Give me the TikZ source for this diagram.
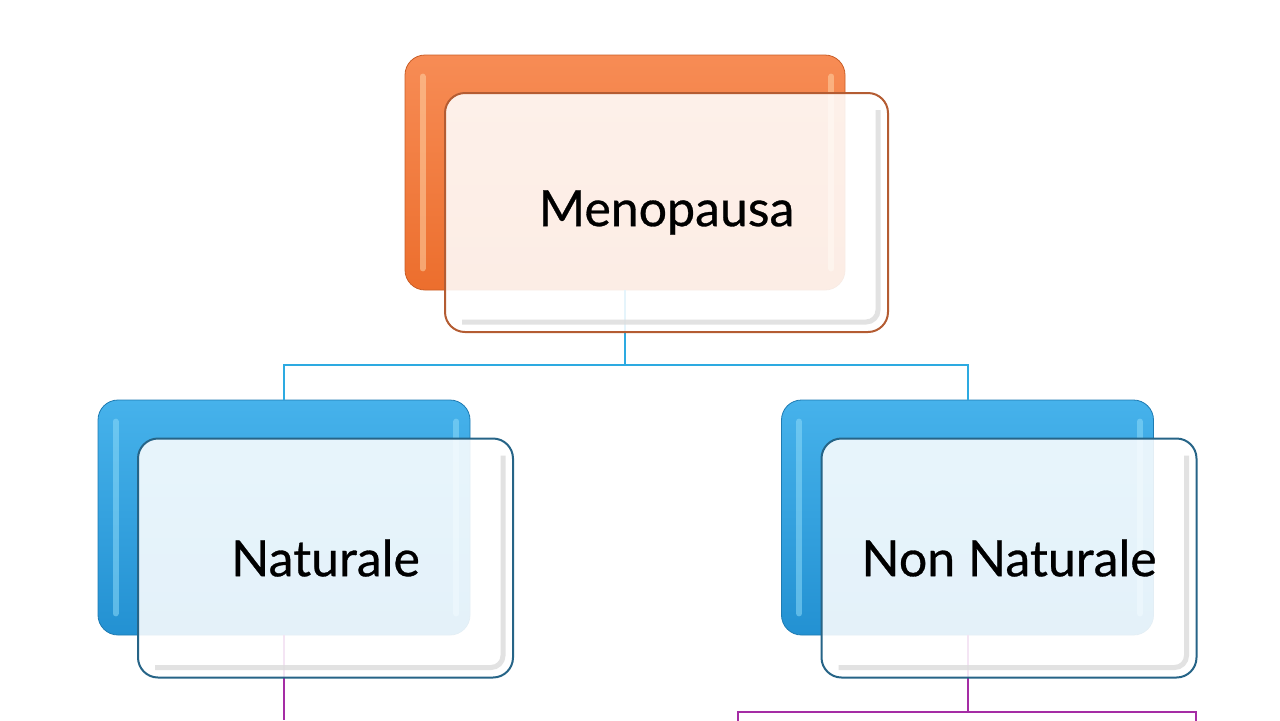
\documentclass[tikz,border=0pt]{standalone}
\usepackage{fontspec}
\setmainfont[FakeBold=0.6]{Lato}
\usetikzlibrary{positioning}

\definecolor{orangeTop}{RGB}{247,140,85}
\definecolor{orangeBot}{RGB}{236,110,45}
\definecolor{orangeEdge}{RGB}{180,92,50}
\definecolor{blueTop}{RGB}{70,178,235}
\definecolor{blueBot}{RGB}{35,145,210}
\definecolor{blueEdge}{RGB}{38,100,135}
\definecolor{linkBlue}{RGB}{45,170,225}
\definecolor{linkPurple}{RGB}{165,45,165}

\tikzset{
    backbox/.style={rounded corners=10pt, minimum width=220pt, minimum height=117.5pt,
        inner sep=0pt, top color=#1Top, bottom color=#1Bot, draw=#1Bot!85!black, line width=0.4pt},
    gloss/.style={line width=3pt, line cap=round, draw opacity=0.55},
    frontbox/.style={rounded corners=10pt, minimum width=221.5pt, minimum height=119.5pt,
        inner sep=0pt, fill=white, fill opacity=0.88, text opacity=1,
        draw=#1Edge, line width=1pt, font=\fontsize{25pt}{30pt}\selectfont},
    narrow/.style={minimum width=#1},
    bevel/.style={draw=black!14, line width=2.5pt, rounded corners=6pt, draw opacity=0.8},
    linkb/.style={draw=linkBlue, line width=1pt},
    linkp/.style={draw=linkPurple, line width=1pt}
}

\begin{document}
\begin{tikzpicture}[x=0.5pt, y=-0.5pt]
    \useasboundingbox (0,0) rectangle (1280,720);

    % Задние (цветные) плашки
    \node[backbox=orange] (menoBack) at (625,172.5) {};
    \node[backbox=blue, narrow=186pt] (natBack) at (284,517.5) {};
    \node[backbox=blue, narrow=186pt] (nonBack) at (967.5,517.5) {};

    % Блики на задних плашках
    \draw[gloss, orange!35!white] ([shift={(18,22)}]menoBack.north west) -- ([shift={(18,-22)}]menoBack.south west);
    \draw[gloss, orange!35!white] ([shift={(-14,22)}]menoBack.north east) -- ([shift={(-14,-22)}]menoBack.south east);
    \draw[gloss, cyan!45!white] ([shift={(18,22)}]natBack.north west) -- ([shift={(18,-22)}]natBack.south west);
    \draw[gloss, cyan!45!white] ([shift={(-14,22)}]natBack.north east) -- ([shift={(-14,-22)}]natBack.south east);
    \draw[gloss, cyan!45!white] ([shift={(18,22)}]nonBack.north west) -- ([shift={(18,-22)}]nonBack.south west);
    \draw[gloss, cyan!45!white] ([shift={(-14,22)}]nonBack.north east) -- ([shift={(-14,-22)}]nonBack.south east);

    % Соединительные линии (синие)
    \coordinate (hub) at (625,365);
    \draw[linkb] (menoBack.south) -- (hub);
    \draw[linkb] (natBack.north) |- (hub) -| (nonBack.north);

    % Соединительные линии (фиолетовые) вниз
    \coordinate (natDown) at (natBack.south |- 0,720);
    \coordinate (split) at (nonBack.south |- 0,712);
    \coordinate (splitL) at (738,712);
    \coordinate (splitR) at (1196,712);
    \draw[linkp] (natBack.south) -- (natDown);
    \draw[linkp] (nonBack.south) -- (split);
    \draw[linkp] (splitL |- 0,722) -- (splitL) -- (splitR) -- (splitR |- 0,722);

    % Передние плашки с текстом
    \node[frontbox=orange] (meno) at ([shift={(41.5,40)}]menoBack) {Menopausa};
    \node[frontbox=blue, narrow=187.5pt] (nat) at ([shift={(41.5,40.5)}]natBack) {Naturale};
    \node[frontbox=blue, narrow=187.5pt] (non) at ([shift={(41.5,40.5)}]nonBack) {Non Naturale};

    % Внутренний рельеф передних плашек
    \foreach \b in {meno, nat, non}
        \draw[bevel] ([shift={(-11,18)}]\b.north east) -- ([shift={(-11,-11)}]\b.south east) -- ([shift={(18,-11)}]\b.south west);
\end{tikzpicture}
\end{document}
